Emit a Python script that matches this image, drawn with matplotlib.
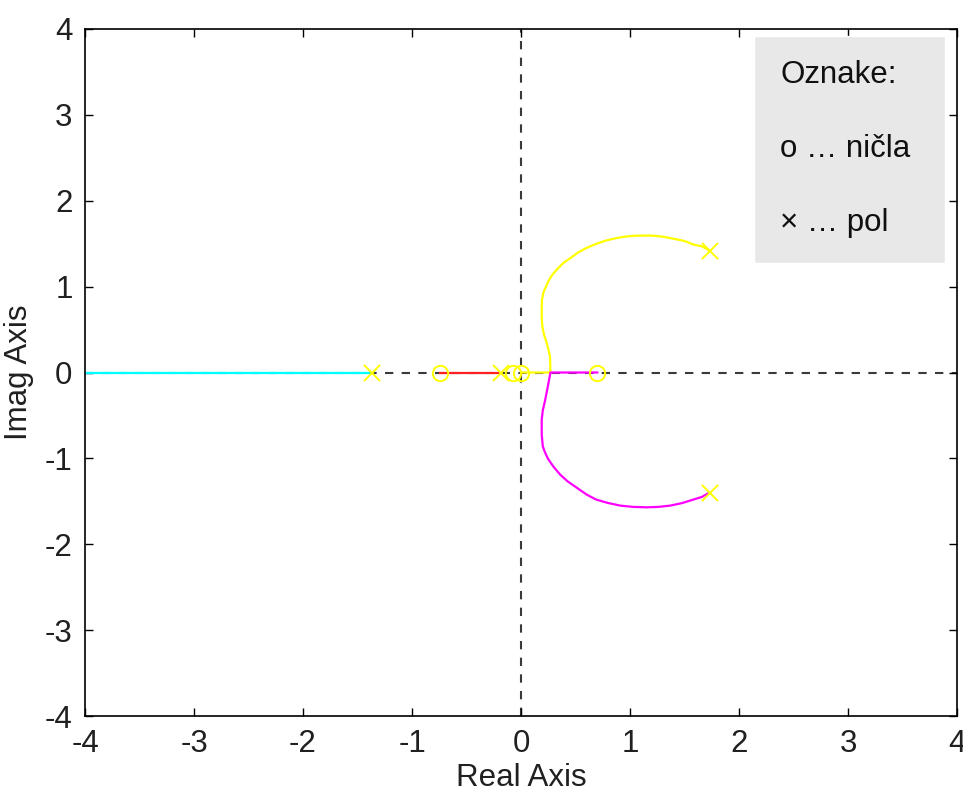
import matplotlib
matplotlib.use("Agg")
import matplotlib.pyplot as plt

plt.rcParams['font.family'] = ['Liberation Sans', 'DejaVu Sans']

# poles and zeros
pole_re = [-1.37, -0.18, 1.73, 1.73]
pole_im = [0.0, 0.0, 1.42, -1.40]
zero_re = [-0.74, -0.07, 0.0, 0.70]
zero_im = [0.0, 0.0, 0.0, 0.0]

# locus branches
cyan_re = [-4.0, -1.37]
cyan_im = [0.0, 0.0]
red_re = [-0.74, -0.18]
red_im = [0.0, 0.0]
upper_re = [1.73, 1.657, 1.58, 1.505, 1.43, 1.31, 1.21, 1.15, 1.06, 0.97,
            0.878, 0.79, 0.694, 0.60, 0.526, 0.45, 0.388, 0.33, 0.281, 0.25,
            0.205, 0.193, 0.19, 0.19, 0.195, 0.211, 0.235, 0.266, 0.27, 0.0]
upper_im = [1.42, 1.47, 1.49, 1.53, 1.55, 1.58, 1.593, 1.595, 1.593, 1.585,
            1.566, 1.54, 1.50, 1.45, 1.40, 1.33, 1.275, 1.20, 1.128, 1.06,
            0.93, 0.849, 0.77, 0.655, 0.54, 0.442, 0.35, 0.19, 0.0, 0.0]
lower_re = [1.73, 1.657, 1.58, 1.48, 1.37, 1.26, 1.15, 1.03, 0.91, 0.80,
            0.69, 0.60, 0.51, 0.43, 0.36, 0.30, 0.25, 0.22, 0.20, 0.19,
            0.19, 0.20, 0.22, 0.245, 0.27, 0.70]
lower_im = [-1.40, -1.45, -1.48, -1.52, -1.55, -1.565, -1.57, -1.565, -1.55,
            -1.52, -1.48, -1.42, -1.34, -1.27, -1.19, -1.10, -1.01, -0.93,
            -0.86, -0.72, -0.55, -0.44, -0.33, -0.17, 0.0, 0.0]

ticks = [-4, -3, -2, -1, 0, 1, 2, 3, 4]
legend_lines = ["Oznake:", "o \u2026 ni\u010dla", "\u00d7 \u2026 pol"]

fig = plt.figure(figsize=(9.63, 7.92), dpi=100)
ax = fig.add_axes([85/963, 76/792, 872/963, 687/792])

ax.axhline(0, color='#3a3a3a', ls=(0, (4, 4)), lw=1.5, zorder=1)
ax.axvline(0, color='#3a3a3a', ls=(0, (4, 4)), lw=1.5, zorder=1)

kw = dict(lw=1.6, zorder=2, solid_joinstyle='round')
ax.plot(cyan_re, cyan_im, color='#00ffff', **kw)
ax.plot(red_re, red_im, color='#ff2020', **kw)
ax.plot(upper_re, upper_im, color='#ffff00', **kw)
ax.plot(lower_re, lower_im, color='#ff00ff', **kw)

ax.plot(pole_re, pole_im, ls='none', marker='x', ms=11, mew=1.4,
        color='#ffff00', zorder=3)
ax.plot(zero_re, zero_im, ls='none', marker='o', ms=11, mew=1.4,
        mfc='none', mec='#ffff00', zorder=3)

ax.set_xlim(-4, 4)
ax.set_ylim(-4, 4)
ax.set_xticks(ticks)
ax.set_yticks(ticks)
ax.set_xticklabels([str(t) for t in ticks])
ax.set_yticklabels([str(t) for t in ticks])
ax.tick_params(direction='in', top=True, right=True, length=6, width=1,
               labelsize=22.5, labelcolor='#202020')
ax.tick_params(axis='x', pad=9)
ax.tick_params(axis='y', pad=9)
for s in ax.spines.values():
    s.set_linewidth(1.2)
ax.set_xlabel('Real Axis', fontsize=22.5, color='#202020', labelpad=3)
ax.set_ylabel('Imag Axis', fontsize=22.5, color='#202020', labelpad=8)

# annotation box
box = plt.Rectangle((754/963, 1 - 263/792), 191/963, 227/792,
                    transform=fig.transFigure, facecolor='#e8e8e8',
                    edgecolor='white', lw=1.0, zorder=5)
fig.add_artist(box)
for i, txt in enumerate(legend_lines):
    fig.text(780/963, 1 - (75 + 74*i)/792, txt, fontsize=22.5,
             va='center', ha='left', color='#101010', zorder=6)

fig.savefig('out.png', dpi=100)
